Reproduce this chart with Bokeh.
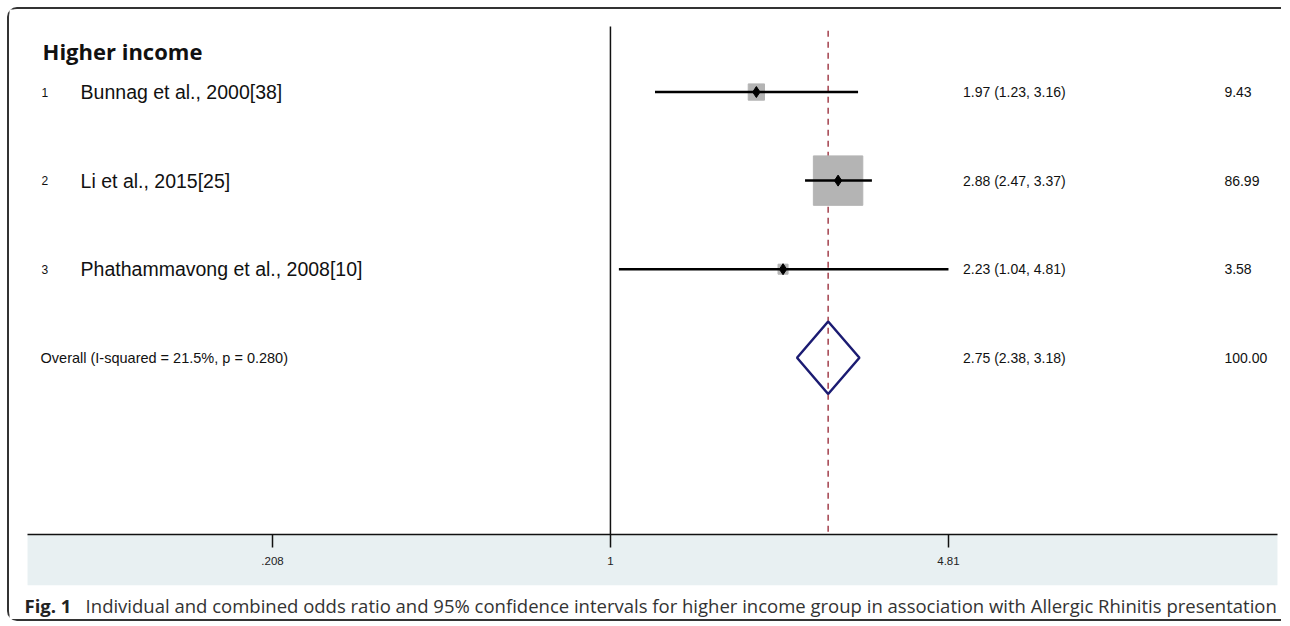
import math
from bokeh.plotting import figure
from bokeh.models import Range1d, FixedTicker, BoxAnnotation
from bokeh.core.properties import value
from bokeh.embed import file_html
from bokeh.resources import INLINE

# ---------------- data ----------------
study_ids = ["1", "2", "3"]
studies = ["Bunnag et al., 2000[38]", "Li et al., 2015[25]", "Phathammavong et al., 2008[10]"]
or_est = [1.97, 2.88, 2.23]
ci_low = [1.23, 2.47, 1.04]
ci_high = [3.16, 3.37, 4.81]
weights = [9.43, 86.99, 3.58]
overall_est = 2.75
overall_low = 2.38
overall_high = 3.18
overall_weight = 100.00
overall_label = "Overall  (I-squared = 21.5%, p = 0.280)"
group_title = "Higher income"
tick_vals = [0.208, 1, 4.81]
tick_labels = [".208", "1", "4.81"]
caption_bold = "Fig. 1"
caption_text = ("Individual and combined odds ratio and 95% confidence intervals for higher "
                "income group in association with Allergic Rhinitis presentation")

# ---------------- layout helpers (page pixel -> data) ----------------
OFFX, OFFY = 10, 10          # canvas origin on the page
W, H = 1272, 610
X1PX = 610                   # page x of OR = 1
K = math.log(4.81) / 337.5   # ln units per pixel
ROWPX0, ROWSTEP = 92, 88

def px_x(px):
    return math.exp((px - X1PX) * K)

def py_y(py):
    return 1 + (py - ROWPX0) / ROWSTEP

rows = [1, 2, 3]
overall_row = 4

p = figure(width=W, height=H, x_axis_type="log",
           x_range=Range1d(px_x(OFFX), px_x(OFFX + W)),
           y_range=Range1d(py_y(OFFY + H), py_y(OFFY)),
           output_backend="svg", toolbar_location=None,
           min_border=0, min_border_left=0, min_border_right=0,
           min_border_top=0, min_border_bottom=0)
p.styles = {"box-sizing": "content-box",
            "margin-left": "7px", "margin-top": "7px",
            "border-top": "2px solid #333", "border-left": "2px solid #333",
            "border-bottom": "2px solid #333",
            "border-top-left-radius": "10px", "border-bottom-left-radius": "10px"}
p.outline_line_color = None
p.grid.visible = False
p.yaxis.visible = False
p.background_fill_color = "white"
p.border_fill_color = "white"

# band below the axis
band = BoxAnnotation(left=px_x(28), right=px_x(1276), top=py_y(532), bottom=py_y(582),
                     fill_color="#e8f0f2", fill_alpha=1.0, line_color=None, level="underlay")
p.add_layout(band)

# axis
ax = p.xaxis[0]
ax.fixed_location = py_y(532)
ax.bounds = (px_x(28), px_x(1276))
ax.ticker = FixedTicker(ticks=tick_vals)
ax.major_label_overrides = {v: t for v, t in zip(tick_vals, tick_labels)}
ax.minor_tick_line_color = None
ax.major_tick_in = 0
ax.major_tick_out = 13
ax.major_tick_line_color = "#111111"
ax.major_tick_line_width = 1.5
ax.axis_line_color = "#111111"
ax.axis_line_width = 1.5
ax.major_label_standoff = 9
ax.major_label_text_font = "Liberation Sans"
ax.major_label_text_font_size = "11.5px"
ax.major_label_text_color = "#222222"

# null line and overall line
p.segment(x0=[1], x1=[1], y0=[py_y(27)], y1=[py_y(532)], line_color="#111111", line_width=1.5)
p.segment(x0=[overall_est], x1=[overall_est], y0=[py_y(31)], y1=[py_y(532)],
          line_color="#a3404c", line_width=1.5, line_dash="6 5")

# weight squares
sizes = [5.3 * math.sqrt(w) for w in weights]
p.scatter(x=or_est, y=rows, marker="square", size=sizes, fill_color="#b4b4b4",
          line_color="#b4b4b4")
# confidence intervals
p.segment(x0=ci_low, x1=ci_high, y0=rows, y1=rows, line_color="black", line_width=2.5)
# point estimates
p.scatter(x=or_est, y=rows, marker="diamond", size=11, fill_color="black", line_color="black")

# overall diamond
h = 36 / ROWSTEP
p.patch(x=[overall_low, overall_est, overall_high, overall_est],
        y=[overall_row, overall_row - h, overall_row, overall_row + h],
        fill_color=None, line_color="#1b1b72", line_width=2.5)

# texts
font = value("Liberation Sans")
p.text(x=[px_x(43)], y=[py_y(51)], text=[group_title], text_font=value("Open Sans"),
       text_font_style="bold", text_font_size="22px", text_baseline="middle", text_color="#111111")
p.text(x=[px_x(42)] * 3, y=rows, text=study_ids, text_font=font, text_font_size="12px",
       text_baseline="middle", text_color="#111111")
p.text(x=[px_x(81)] * 3, y=rows, text=studies, text_font=font, text_font_size="19.5px",
       text_baseline="middle", text_color="#111111")
p.text(x=[px_x(41)], y=[overall_row], text=[overall_label], text_font=font,
       text_font_size="14.5px", text_baseline="middle", text_color="#111111")

est_txt = [f"{e:.2f} ({l:.2f}, {u:.2f})" for e, l, u in zip(or_est, ci_low, ci_high)]
est_txt.append(f"{overall_est:.2f} ({overall_low:.2f}, {overall_high:.2f})")
wt_txt = [f"{w:.2f}" for w in weights] + [f"{overall_weight:.2f}"]
all_rows = rows + [overall_row]
p.text(x=[px_x(962)] * 4, y=all_rows, text=est_txt, text_font=font, text_font_size="14px",
       text_baseline="middle", text_color="#111111")
p.text(x=[px_x(1223)] * 4, y=all_rows, text=wt_txt, text_font=font, text_font_size="14px",
       text_baseline="middle", text_color="#111111")

# caption
p.text(x=[px_x(25)], y=[py_y(602)], text=[caption_bold], text_font=value("Open Sans"),
       text_font_style="bold", text_font_size="18.5px", text_baseline="middle", text_color="#222222")
p.text(x=[px_x(86)], y=[py_y(602)], text=[caption_text], text_font=value("Open Sans"),
       text_font_size="18.5px", text_baseline="middle", text_color="#333333")

open("out.html", "w").write(file_html(p, INLINE))
